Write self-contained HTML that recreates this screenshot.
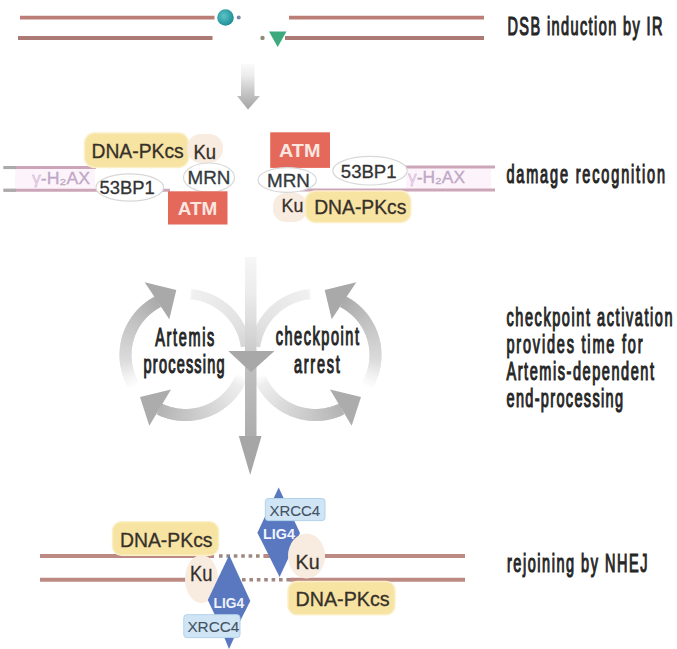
<!DOCTYPE html>
<html><head><meta charset="utf-8">
<style>
html,body{margin:0;padding:0;background:#fff;}
body{width:677px;height:649px;overflow:hidden;}
svg{display:block;}
</style></head>
<body>
<svg width="677" height="649" viewBox="0 0 677 649">
<defs>
  <linearGradient id="gTopArrow" x1="0" y1="0" x2="0" y2="1">
    <stop offset="0" stop-color="#fafafa"/>
    <stop offset="0.25" stop-color="#ececec"/>
    <stop offset="0.6" stop-color="#c8c8c8"/>
    <stop offset="1" stop-color="#a4a4a4"/>
  </linearGradient>
  <linearGradient id="gShaft" x1="0" y1="0" x2="0" y2="1">
    <stop offset="0" stop-color="#f6f6f6"/>
    <stop offset="0.2" stop-color="#ececec"/>
    <stop offset="0.42" stop-color="#d6d6d6"/>
    <stop offset="0.6" stop-color="#c0c0c0"/>
    <stop offset="1" stop-color="#acacac"/>
  </linearGradient>
  <radialGradient id="gTeal" cx="0.4" cy="0.4" r="0.6">
    <stop offset="0" stop-color="#5cc4c8"/>
    <stop offset="1" stop-color="#1f8f98"/>
  </radialGradient>
</defs>
<g stroke-linecap="butt">
  <line x1="20" y1="17.6" x2="214.5" y2="17.6" stroke="#ba7e76" stroke-width="3.8"/>
  <line x1="289" y1="17.6" x2="484" y2="17.6" stroke="#ba7e76" stroke-width="3.8"/>
  <line x1="18" y1="38" x2="212.5" y2="38" stroke="#ac7a74" stroke-width="3.8"/>
  <line x1="285" y1="38" x2="484" y2="38" stroke="#ac7a74" stroke-width="3.8"/>
</g>
<circle cx="225.5" cy="17.5" r="8.3" fill="url(#gTeal)"/>
<circle cx="238.7" cy="17.5" r="2" fill="#7a86a8"/>
<polygon points="269,31.5 286.5,31.5 277.7,47" fill="#3caa7c"/>
<circle cx="262.5" cy="37.9" r="2.2" fill="#8c8a72"/>
<text transform="translate(507.5,35.4) scale(0.58,1)" x="0" y="0" font-family="Liberation Sans" font-size="25" font-weight="normal" fill="#262626" stroke="#262626" stroke-width="1.2" textLength="267.24" lengthAdjust="spacing">DSB induction by IR</text>
<polygon points="241,64 254.5,64 254.5,96 260,96 248,109.5 237,96 241,96" fill="url(#gTopArrow)"/>
<g>
  <rect x="15" y="168" width="80" height="21.5" fill="#fdf3fb"/>
  <rect x="406" y="167.5" width="85" height="21.5" fill="#fdf3fb"/>
  <line x1="3.5" y1="167.6" x2="96" y2="167.6" stroke="#cca6b8" stroke-width="3"/>
  <line x1="3.5" y1="190.3" x2="170" y2="190.3" stroke="#cca6b8" stroke-width="3"/>
  <line x1="3.5" y1="167.6" x2="16" y2="167.6" stroke="#ababab" stroke-width="3"/>
  <line x1="3.5" y1="190.3" x2="16" y2="190.3" stroke="#ababab" stroke-width="3"/>
  <line x1="404" y1="167.1" x2="495" y2="167.1" stroke="#cca6b8" stroke-width="3"/>
  <line x1="300" y1="189.9" x2="495" y2="189.9" stroke="#cca6b8" stroke-width="3"/>
  <text x="32" y="184" font-family="Liberation Sans" font-size="16.5" fill="#bea8c6" stroke="#bea8c6" stroke-width="0.3" textLength="58" lengthAdjust="spacingAndGlyphs"><tspan fill="#ecd4ee">γ</tspan>-H₂AX</text>
  <text x="408" y="183" font-family="Liberation Sans" font-size="16.5" fill="#bea8c6" stroke="#bea8c6" stroke-width="0.3" textLength="57" lengthAdjust="spacingAndGlyphs"><tspan fill="#ecd4ee">γ</tspan>-H₂AX</text>
</g>
<rect x="84.5" y="133" width="104" height="34.5" rx="10" fill="#f7e3a2" stroke="#fbefc8" stroke-width="1.5"/>
<text x="91.5" y="157.8" font-family="Liberation Sans" font-size="20.5" font-weight="normal" fill="#36302a" stroke="#36302a" stroke-width="0.3" textLength="92.2" lengthAdjust="spacingAndGlyphs">DNA-PKcs</text>
<rect x="187" y="134" width="36" height="29" rx="14" fill="#f8ebdf"/>
<text x="193.4" y="158.5" font-family="Liberation Sans" font-size="19.5" font-weight="normal" fill="#36302a" stroke="#36302a" stroke-width="0.3" textLength="22.6" lengthAdjust="spacingAndGlyphs">Ku</text>
<ellipse cx="209" cy="177.5" rx="25.5" ry="14.5" fill="#fff" stroke="#d8d8d8" stroke-width="1.2"/>
<text x="187.5" y="184.3" font-family="Liberation Sans" font-size="18" font-weight="normal" fill="#333a3e" stroke="#333a3e" stroke-width="0.3" textLength="42.9" lengthAdjust="spacingAndGlyphs">MRN</text>
<ellipse cx="129.8" cy="187.5" rx="33.8" ry="13.6" fill="#fff" stroke="#d8d8d8" stroke-width="1.2"/>
<text x="99.6" y="193.6" font-family="Liberation Sans" font-size="18.5" font-weight="normal" fill="#333" stroke="#333" stroke-width="0.3" textLength="55.2" lengthAdjust="spacingAndGlyphs">53BP1</text>
<rect x="168" y="191.3" width="59.5" height="33.2" fill="#e5695b"/>
<text x="177.8" y="215" font-family="Liberation Sans" font-size="18.5" font-weight="bold" fill="#fbe6e0" textLength="39.6" lengthAdjust="spacingAndGlyphs">ATM</text>
<rect x="270.2" y="132.3" width="59.8" height="35.6" fill="#e5695b"/>
<text x="279" y="156.6" font-family="Liberation Sans" font-size="18.5" font-weight="bold" fill="#fbe6e0" textLength="41.4" lengthAdjust="spacingAndGlyphs">ATM</text>
<ellipse cx="370" cy="170.7" rx="37.2" ry="14.3" fill="#fff" stroke="#d8d8d8" stroke-width="1.2"/>
<text x="340.8" y="177.8" font-family="Liberation Sans" font-size="19" font-weight="normal" fill="#333" stroke="#333" stroke-width="0.3" textLength="55.8" lengthAdjust="spacingAndGlyphs">53BP1</text>
<rect x="273" y="193" width="34" height="29" rx="13" fill="#f8ebdf"/>
<rect x="305.5" y="191" width="105.3" height="31.5" rx="10" fill="#f7e3a2" stroke="#fbefc8" stroke-width="1.5"/>
<text x="281.6" y="212.4" font-family="Liberation Sans" font-size="19" font-weight="normal" fill="#36302a" stroke="#36302a" stroke-width="0.3" textLength="21.8" lengthAdjust="spacingAndGlyphs">Ku</text>
<text x="314.2" y="214" font-family="Liberation Sans" font-size="19.5" font-weight="normal" fill="#36302a" stroke="#36302a" stroke-width="0.3" textLength="92.2" lengthAdjust="spacingAndGlyphs">DNA-PKcs</text>
<ellipse cx="287.2" cy="180" rx="29.2" ry="12.3" fill="#fff" stroke="#d8d8d8" stroke-width="1.2"/>
<text x="267" y="186.5" font-family="Liberation Sans" font-size="17.5" font-weight="normal" fill="#333a3e" stroke="#333a3e" stroke-width="0.3" textLength="42.9" lengthAdjust="spacingAndGlyphs">MRN</text>
<text transform="translate(506.4,183.2) scale(0.58,1)" x="0" y="0" font-family="Liberation Sans" font-size="25" font-weight="normal" fill="#262626" stroke="#262626" stroke-width="1.2" textLength="273.45" lengthAdjust="spacing">damage recognition</text>
<polygon points="247.52,377.57 246.68,379.75 235.56,375.25 236.24,373.47" fill="#fefefe"/>
<polygon points="247.13,378.63 246.01,381.34 235.01,376.55 235.92,374.33" fill="#fbfbfb"/>
<polygon points="246.49,380.23 245.30,382.92 234.43,377.84 235.40,375.64" fill="#f9f9f9"/>
<polygon points="245.81,381.82 244.55,384.47 233.82,379.12 234.84,376.94" fill="#f6f6f6"/>
<polygon points="245.08,383.39 243.76,386.01 233.17,380.37 234.25,378.23" fill="#f4f4f4"/>
<polygon points="244.32,384.94 242.93,387.53 232.49,381.61 233.63,379.49" fill="#f1f1f1"/>
<polygon points="243.52,386.47 242.06,389.02 231.77,382.83 232.97,380.75" fill="#eeeeee"/>
<polygon points="242.67,387.98 241.15,390.49 231.03,384.03 232.28,381.98" fill="#ededed"/>
<polygon points="241.79,389.46 240.20,391.93 230.25,385.22 231.55,383.19" fill="#ececec"/>
<polygon points="240.87,390.92 239.21,393.35 229.45,386.38 230.80,384.39" fill="#ebebeb"/>
<polygon points="239.91,392.36 238.19,394.74 228.61,387.52 230.02,385.57" fill="#eaeaea"/>
<polygon points="238.91,393.77 237.13,396.11 227.75,388.63 229.20,386.72" fill="#e9e9e9"/>
<polygon points="237.88,395.16 236.04,397.45 226.85,389.73 228.36,387.85" fill="#e8e8e8"/>
<polygon points="236.81,396.51 234.91,398.75 225.93,390.80 227.48,388.96" fill="#e7e7e7"/>
<polygon points="235.71,397.84 233.75,400.03 224.98,391.85 226.58,390.05" fill="#e6e6e6"/>
<polygon points="234.57,399.14 232.55,401.28 224.00,392.87 225.65,391.12" fill="#e5e5e5"/>
<polygon points="233.39,400.41 231.33,402.50 222.99,393.86 224.69,392.15" fill="#e4e4e4"/>
<polygon points="232.19,401.65 230.07,403.68 221.96,394.83 223.70,393.17" fill="#e3e3e3"/>
<polygon points="230.95,402.85 228.78,404.83 220.91,395.77 222.69,394.15" fill="#e2e2e2"/>
<polygon points="229.68,404.03 227.46,405.95 219.83,396.68 221.65,395.11" fill="#e1e1e1"/>
<polygon points="228.39,405.17 226.11,407.03 218.73,397.57 220.59,396.05" fill="#e0e0e0"/>
<polygon points="227.06,406.27 224.74,408.07 217.60,398.42 219.50,396.95" fill="#dedede"/>
<polygon points="225.70,407.34 223.33,409.08 216.45,399.25 218.39,397.83" fill="#dedede"/>
<polygon points="224.32,408.38 221.90,410.05 215.28,400.04 217.26,398.67" fill="#dcdcdc"/>
<polygon points="222.91,409.38 220.45,410.99 214.10,400.81 216.11,399.49" fill="#dcdcdc"/>
<polygon points="221.47,410.34 218.97,411.88 212.89,401.54 214.93,400.28" fill="#dadada"/>
<polygon points="220.01,411.26 217.47,412.74 211.66,402.24 213.74,401.03" fill="#dadada"/>
<polygon points="218.52,412.14 215.95,413.56 210.41,402.91 212.52,401.75" fill="#d8d8d8"/>
<polygon points="217.02,412.99 214.41,414.33 209.15,403.55 211.29,402.44" fill="#d8d8d8"/>
<polygon points="215.49,413.79 212.84,415.07 207.87,404.15 210.04,403.10" fill="#d6d6d6"/>
<polygon points="213.94,414.56 211.26,415.76 206.58,404.72 208.77,403.73" fill="#d6d6d6"/>
<polygon points="212.37,415.28 209.66,416.42 205.27,405.25 207.49,404.32" fill="#d4d4d4"/>
<polygon points="210.78,415.97 208.05,417.03 203.95,405.75 206.19,404.88" fill="#d4d4d4"/>
<polygon points="209.18,416.61 206.41,417.60 202.61,406.22 204.87,405.40" fill="#d2d2d2"/>
<polygon points="207.56,417.20 204.77,418.12 201.27,406.65 203.55,405.89" fill="#d2d2d2"/>
<polygon points="205.92,417.76 203.11,418.61 199.91,407.04 202.21,406.35" fill="#d0d0d0"/>
<polygon points="204.27,418.27 201.44,419.05 198.54,407.40 200.86,406.77" fill="#d0d0d0"/>
<polygon points="202.61,418.74 199.76,419.44 197.16,407.73 199.50,407.15" fill="#cecece"/>
<polygon points="200.94,419.17 198.07,419.79 195.78,408.01 198.13,407.50" fill="#cecece"/>
<polygon points="199.25,419.55 196.36,420.10 194.39,408.26 196.75,407.82" fill="#cccccc"/>
<polygon points="197.56,419.89 194.66,420.36 192.99,408.48 195.36,408.09" fill="#cccccc"/>
<polygon points="195.85,420.18 192.94,420.58 191.59,408.66 193.97,408.33" fill="#cacaca"/>
<polygon points="194.14,420.43 191.22,420.75 190.18,408.80 192.57,408.53" fill="#cacaca"/>
<polygon points="192.43,420.64 189.50,420.88 188.77,408.90 191.17,408.70" fill="#c8c8c8"/>
<polygon points="190.71,420.79 187.77,420.96 187.36,408.97 189.76,408.83" fill="#c8c8c8"/>
<polygon points="188.98,420.91 186.05,421.00 185.95,409.00 188.35,408.92" fill="#c6c6c6"/>
<polygon points="187.26,420.98 184.32,420.99 184.53,408.99 186.94,408.98" fill="#c6c6c6"/>
<polygon points="185.53,421.00 182.59,420.94 183.12,408.95 185.52,409.00" fill="#c4c4c4"/>
<polygon points="183.80,420.98 180.87,420.84 181.71,408.87 184.11,408.98" fill="#c4c4c4"/>
<polygon points="182.07,420.91 179.15,420.69 180.30,408.75 182.70,408.93" fill="#c2c2c2"/>
<polygon points="180.35,420.80 177.43,420.50 178.90,408.59 181.29,408.84" fill="#c2c2c2"/>
<polygon points="178.63,420.64 175.72,420.27 177.49,408.40 179.88,408.71" fill="#c0c0c0"/>
<polygon points="176.91,420.44 174.01,419.99 176.10,408.18 178.47,408.54" fill="#c0c0c0"/>
<polygon points="175.20,420.19 172.31,419.67 174.71,407.91 177.08,408.34" fill="#bebebe"/>
<polygon points="173.50,419.90 170.63,419.30 173.33,407.61 175.68,408.10" fill="#bebebe"/>
<polygon points="171.81,419.56 168.95,418.89 171.96,407.27 174.30,407.82" fill="#bcbcbc"/>
<polygon points="170.12,419.18 167.28,418.44 170.59,406.90 172.92,407.51" fill="#bcbcbc"/>
<polygon points="168.45,418.76 165.63,417.94 169.24,406.49 171.55,407.17" fill="#bababa"/>
<polygon points="166.78,418.29 163.99,417.39 167.90,406.05 170.19,406.78" fill="#bababa"/>
<polygon points="165.13,417.78 162.36,416.81 166.57,405.57 168.84,406.36" fill="#b8b8b8"/>
<polygon points="163.50,417.22 160.75,416.18 165.25,405.06 167.50,405.91" fill="#b8b8b8"/>
<polygon points="161.87,416.63 159.16,415.51 163.95,404.51 166.17,405.42" fill="#b6b6b6"/>
<polygon points="160.27,415.99 157.58,414.80 162.66,403.93 164.86,404.90" fill="#b6b6b6"/>
<polygon points="158.68,415.31 156.57,414.32 161.83,403.53 163.56,404.34" fill="#b4b4b4"/>
<polygon points="140.00,396.90 171.00,389.60 149.30,425.80" fill="#acacac"/>
<polygon points="129.53,389.97 128.32,387.96 138.72,381.97 139.71,383.62" fill="#fefefe"/>
<polygon points="128.94,389.01 127.47,386.45 138.02,380.73 139.22,382.83" fill="#fdfdfd"/>
<polygon points="128.06,387.51 126.67,384.91 137.36,379.47 138.51,381.60" fill="#fbfbfb"/>
<polygon points="127.23,385.99 125.90,383.35 136.74,378.20 137.82,380.35" fill="#f9f9f9"/>
<polygon points="126.43,384.44 125.17,381.77 136.14,376.91 137.17,379.09" fill="#f8f8f8"/>
<polygon points="125.68,382.88 124.49,380.18 135.58,375.60 136.55,377.81" fill="#f6f6f6"/>
<polygon points="124.96,381.30 123.85,378.56 135.06,374.28 135.97,376.52" fill="#f4f4f4"/>
<polygon points="124.29,379.69 123.25,376.93 134.57,372.94 135.42,375.20" fill="#f3f3f3"/>
<polygon points="123.67,378.08 122.70,375.29 134.11,371.60 134.91,373.88" fill="#f1f1f1"/>
<polygon points="123.08,376.44 122.18,373.63 133.70,370.24 134.43,372.54" fill="#efefef"/>
<polygon points="122.54,374.79 121.71,371.95 133.31,368.87 133.98,371.19" fill="#ececec"/>
<polygon points="122.04,373.13 121.29,370.27 132.97,367.49 133.58,369.83" fill="#eaeaea"/>
<polygon points="121.58,371.45 120.91,368.57 132.65,366.11 133.20,368.46" fill="#e8e8e8"/>
<polygon points="121.17,369.76 120.58,366.87 132.38,364.71 132.87,367.08" fill="#e6e6e6"/>
<polygon points="120.81,368.06 120.29,365.16 132.14,363.31 132.57,365.69" fill="#e4e4e4"/>
<polygon points="120.48,366.36 120.04,363.44 131.94,361.90 132.31,364.29" fill="#e1e1e1"/>
<polygon points="120.21,364.64 119.84,361.71 131.78,360.49 132.08,362.89" fill="#dfdfdf"/>
<polygon points="119.98,362.92 119.69,359.98 131.65,359.08 131.89,361.48" fill="#dddddd"/>
<polygon points="119.79,361.19 119.58,358.25 131.57,357.66 131.74,360.07" fill="#dbdbdb"/>
<polygon points="119.65,359.46 119.52,356.51 131.51,356.24 131.62,358.65" fill="#dadada"/>
<polygon points="119.56,357.73 119.50,354.78 131.50,354.82 131.55,357.23" fill="#d9d9d9"/>
<polygon points="119.51,355.99 119.53,353.04 131.52,353.40 131.51,355.81" fill="#d8d8d8"/>
<polygon points="119.50,354.25 119.60,351.30 131.58,351.98 131.50,354.39" fill="#d7d7d7"/>
<polygon points="119.55,352.52 119.72,349.57 131.68,350.56 131.54,352.97" fill="#d6d6d6"/>
<polygon points="119.63,350.78 119.89,347.84 131.82,349.14 131.61,351.55" fill="#d5d5d5"/>
<polygon points="119.77,349.05 120.10,346.12 131.99,347.73 131.72,350.13" fill="#d4d4d4"/>
<polygon points="119.95,347.32 120.36,344.40 132.20,346.33 131.87,348.72" fill="#d3d3d3"/>
<polygon points="120.17,345.60 120.66,342.69 132.45,344.93 132.05,347.31" fill="#d2d2d2"/>
<polygon points="120.44,343.89 121.00,340.99 132.73,343.54 132.27,345.91" fill="#d1d1d1"/>
<polygon points="120.76,342.18 121.40,339.29 133.05,342.15 132.53,344.51" fill="#d0d0d0"/>
<polygon points="121.12,340.48 121.83,337.61 133.41,340.77 132.82,343.12" fill="#cfcfcf"/>
<polygon points="121.52,338.79 122.31,335.94 133.80,339.41 133.15,341.74" fill="#cecece"/>
<polygon points="121.97,337.11 122.83,334.29 134.23,338.05 133.52,340.36" fill="#cdcdcd"/>
<polygon points="122.46,335.45 123.40,332.65 134.69,336.71 133.92,339.00" fill="#cccccc"/>
<polygon points="123.00,333.79 124.01,331.02 135.19,335.38 134.36,337.65" fill="#cbcbcb"/>
<polygon points="123.58,332.16 124.66,329.41 135.72,334.06 134.84,336.31" fill="#cacaca"/>
<polygon points="124.20,330.53 125.36,327.82 136.29,332.76 135.35,334.98" fill="#c9c9c9"/>
<polygon points="124.87,328.93 126.09,326.24 136.89,331.47 135.89,333.67" fill="#c8c8c8"/>
<polygon points="125.57,327.34 126.87,324.69 137.53,330.20 136.47,332.37" fill="#c7c7c7"/>
<polygon points="126.32,325.78 127.69,323.16 138.20,328.95 137.08,331.09" fill="#c6c6c6"/>
<polygon points="127.11,324.23 128.55,321.65 138.90,327.71 137.73,329.82" fill="#c5c5c5"/>
<polygon points="127.94,322.70 129.44,320.16 139.64,326.50 138.41,328.58" fill="#c4c4c4"/>
<polygon points="128.81,321.20 130.38,318.70 140.40,325.30 139.12,327.35" fill="#c3c3c3"/>
<polygon points="129.72,319.72 131.35,317.26 141.20,324.12 139.86,326.13" fill="#c2c2c2"/>
<polygon points="130.67,318.26 132.37,315.85 142.03,322.97 140.64,324.94" fill="#c1c1c1"/>
<polygon points="131.65,316.83 133.42,314.46 142.89,321.83 141.44,323.77" fill="#c0c0c0"/>
<polygon points="132.68,315.43 134.50,313.11 143.77,320.72 142.28,322.62" fill="#bfbfbf"/>
<polygon points="133.74,314.05 135.62,311.78 144.69,319.64 143.15,321.50" fill="#bdbdbd"/>
<polygon points="134.83,312.71 136.77,310.48 145.63,318.58 144.04,320.40" fill="#bcbcbc"/>
<polygon points="135.96,311.39 137.96,309.22 146.61,317.54 144.97,319.32" fill="#bbbbbb"/>
<polygon points="137.13,310.10 139.18,307.98 147.61,316.53 145.92,318.26" fill="#bababa"/>
<polygon points="138.33,308.84 140.44,306.78 148.63,315.55 146.90,317.23" fill="#b9b9b9"/>
<polygon points="139.56,307.62 141.72,305.61 149.68,314.59 147.91,316.23" fill="#b7b7b7"/>
<polygon points="140.82,306.42 143.04,304.47 150.76,313.66 148.94,315.26" fill="#b6b6b6"/>
<polygon points="142.11,305.26 144.38,303.37 151.86,312.76 150.00,314.31" fill="#b5b5b5"/>
<polygon points="143.44,304.14 145.75,302.31 152.98,311.89 151.09,313.39" fill="#b4b4b4"/>
<polygon points="144.79,303.05 147.16,301.28 154.13,311.05 152.19,312.50" fill="#b3b3b3"/>
<polygon points="146.17,302.00 148.58,300.29 155.29,310.24 153.32,311.63" fill="#b2b2b2"/>
<polygon points="147.58,300.98 150.03,299.34 156.48,309.46 154.47,310.80" fill="#b0b0b0"/>
<polygon points="149.02,300.00 151.51,298.42 157.69,308.71 155.65,310.00" fill="#afafaf"/>
<polygon points="150.47,299.06 153.01,297.55 158.92,308.00 156.84,309.23" fill="#aeaeae"/>
<polygon points="151.96,298.16 154.54,296.71 160.17,307.31 158.06,308.49" fill="#adadad"/>
<polygon points="153.47,297.30 155.54,296.19 160.98,306.89 159.29,307.79" fill="#acacac"/>
<polygon points="144.70,282.30 176.30,290.00 169.30,319.30" fill="#a9a9a9"/>
<polygon points="190.10,289.16 192.43,289.36 191.38,299.31 189.41,299.14" fill="#fbfbfb"/>
<polygon points="191.22,289.25 194.14,289.57 192.83,299.48 190.36,299.21" fill="#f4f4f4"/>
<polygon points="192.94,289.42 195.85,289.82 194.28,299.69 191.82,299.36" fill="#f0f0f0"/>
<polygon points="194.66,289.64 197.56,290.11 195.73,299.94 193.27,299.54" fill="#efefef"/>
<polygon points="196.36,289.90 199.25,290.45 197.17,300.23 194.72,299.76" fill="#efefef"/>
<polygon points="198.07,290.21 200.94,290.83 198.60,300.55 196.16,300.02" fill="#efefef"/>
<polygon points="199.76,290.56 202.61,291.26 200.02,300.91 197.60,300.32" fill="#eeeeee"/>
<polygon points="201.44,290.95 204.27,291.73 201.43,301.31 199.02,300.66" fill="#eeeeee"/>
<polygon points="203.11,291.39 205.92,292.24 202.83,301.75 200.44,301.03" fill="#ededed"/>
<polygon points="204.77,291.88 207.56,292.80 204.22,302.22 201.85,301.44" fill="#ededed"/>
<polygon points="206.41,292.40 209.18,293.39 205.59,302.73 203.25,301.89" fill="#ededed"/>
<polygon points="208.05,292.97 210.78,294.03 206.95,303.27 204.63,302.37" fill="#ececec"/>
<polygon points="209.66,293.58 212.37,294.72 208.30,303.85 206.00,302.89" fill="#ececec"/>
<polygon points="211.26,294.24 213.94,295.44 209.63,304.47 207.36,303.44" fill="#ececec"/>
<polygon points="212.84,294.93 215.49,296.21 210.95,305.11 208.70,304.03" fill="#ebebeb"/>
<polygon points="214.41,295.67 217.02,297.01 212.24,305.80 210.03,304.66" fill="#ebebeb"/>
<polygon points="215.95,296.44 218.52,297.86 213.52,306.51 211.34,305.32" fill="#eaeaea"/>
<polygon points="217.47,297.26 220.01,298.74 214.78,307.26 212.63,306.01" fill="#eaeaea"/>
<polygon points="218.97,298.12 221.47,299.66 216.02,308.05 213.90,306.74" fill="#eaeaea"/>
<polygon points="220.45,299.01 222.91,300.62 217.24,308.86 215.15,307.50" fill="#e9e9e9"/>
<polygon points="221.90,299.95 224.32,301.62 218.44,309.71 216.39,308.29" fill="#e9e9e9"/>
<polygon points="223.33,300.92 225.70,302.66 219.61,310.59 217.60,309.11" fill="#e8e8e8"/>
<polygon points="224.74,301.93 227.06,303.73 220.76,311.50 218.79,309.97" fill="#e8e8e8"/>
<polygon points="226.11,302.97 228.39,304.83 221.89,312.43 219.96,310.86" fill="#e8e8e8"/>
<polygon points="227.46,304.05 229.68,305.97 222.99,313.40 221.10,311.77" fill="#e7e7e7"/>
<polygon points="228.78,305.17 230.95,307.15 224.07,314.40 222.22,312.72" fill="#e7e7e7"/>
<polygon points="230.07,306.32 232.19,308.35 225.12,315.42 223.32,313.70" fill="#e6e6e6"/>
<polygon points="231.33,307.50 233.39,309.59 226.14,316.47 224.38,314.70" fill="#e6e6e6"/>
<polygon points="232.55,308.72 234.57,310.86 227.13,317.55 225.42,315.73" fill="#e6e6e6"/>
<polygon points="233.75,309.97 235.71,312.16 228.10,318.65 226.44,316.79" fill="#e5e5e5"/>
<polygon points="234.91,311.25 236.81,313.49 229.04,319.78 227.43,317.87" fill="#e5e5e5"/>
<polygon points="236.04,312.55 237.88,314.84 229.94,320.93 228.38,318.99" fill="#e4e4e4"/>
<polygon points="237.13,313.89 238.91,316.23 230.82,322.10 229.31,320.12" fill="#e4e4e4"/>
<polygon points="238.19,315.26 239.91,317.64 231.66,323.30 230.21,321.28" fill="#e4e4e4"/>
<polygon points="239.21,316.65 240.87,319.08 232.48,324.52 231.08,322.46" fill="#e3e3e3"/>
<polygon points="240.20,318.07 241.79,320.54 233.26,325.76 231.91,323.66" fill="#e3e3e3"/>
<polygon points="241.15,319.51 242.67,322.02 234.01,327.02 232.72,324.89" fill="#e2e2e2"/>
<polygon points="242.06,320.98 243.52,323.53 234.73,328.30 233.49,326.14" fill="#e2e2e2"/>
<polygon points="242.93,322.47 244.32,325.06 235.41,329.60 234.23,327.40" fill="#e1e1e1"/>
<polygon points="243.76,323.99 245.08,326.61 236.06,330.91 234.93,328.69" fill="#e0e0e0"/>
<polygon points="244.55,325.53 245.81,328.18 236.67,332.25 235.61,329.99" fill="#dfdfdf"/>
<polygon points="245.30,327.08 246.49,329.77 237.25,333.59 236.24,331.31" fill="#dfdfdf"/>
<polygon points="246.01,328.66 247.13,331.37 237.79,334.95 236.85,332.65" fill="#dedede"/>
<polygon points="246.68,330.25 247.72,333.00 238.30,336.33 237.41,334.00" fill="#dddddd"/>
<polygon points="247.31,331.86 248.28,334.63 238.77,337.72 237.95,335.37" fill="#dcdcdc"/>
<polygon points="247.89,333.49 248.79,336.28 239.20,339.12 238.44,336.75" fill="#dbdbdb"/>
<polygon points="248.44,335.13 249.26,337.95 239.60,340.53 238.90,338.14" fill="#dadada"/>
<polygon points="248.94,336.78 249.68,339.62 239.96,341.95 239.32,339.54" fill="#dadada"/>
<polygon points="249.39,338.45 250.06,341.31 240.28,343.38 239.71,340.96" fill="#d9d9d9"/>
<polygon points="249.80,340.13 250.40,343.00 240.57,344.82 240.06,342.38" fill="#d8d8d8"/>
<polygon points="250.17,341.81 250.69,344.70 240.81,346.26 240.37,343.81" fill="#d7d7d7"/>
<polygon points="250.49,343.51 250.86,345.81 240.96,347.21 240.64,345.25" fill="#d6d6d6"/>
<polygon points="253.48,377.57 254.32,379.75 265.44,375.25 264.76,373.47" fill="#fefefe"/>
<polygon points="253.87,378.63 254.99,381.34 265.99,376.55 265.08,374.33" fill="#fbfbfb"/>
<polygon points="254.51,380.23 255.70,382.92 266.57,377.84 265.60,375.64" fill="#f9f9f9"/>
<polygon points="255.19,381.82 256.45,384.47 267.18,379.12 266.16,376.94" fill="#f6f6f6"/>
<polygon points="255.92,383.39 257.24,386.01 267.83,380.37 266.75,378.23" fill="#f4f4f4"/>
<polygon points="256.68,384.94 258.07,387.53 268.51,381.61 267.37,379.49" fill="#f1f1f1"/>
<polygon points="257.48,386.47 258.94,389.02 269.23,382.83 268.03,380.75" fill="#eeeeee"/>
<polygon points="258.33,387.98 259.85,390.49 269.97,384.03 268.72,381.98" fill="#ededed"/>
<polygon points="259.21,389.46 260.80,391.93 270.75,385.22 269.45,383.19" fill="#ececec"/>
<polygon points="260.13,390.92 261.79,393.35 271.55,386.38 270.20,384.39" fill="#ebebeb"/>
<polygon points="261.09,392.36 262.81,394.74 272.39,387.52 270.98,385.57" fill="#eaeaea"/>
<polygon points="262.09,393.77 263.87,396.11 273.25,388.63 271.80,386.72" fill="#e9e9e9"/>
<polygon points="263.12,395.16 264.96,397.45 274.15,389.73 272.64,387.85" fill="#e8e8e8"/>
<polygon points="264.19,396.51 266.09,398.75 275.07,390.80 273.52,388.96" fill="#e7e7e7"/>
<polygon points="265.29,397.84 267.25,400.03 276.02,391.85 274.42,390.05" fill="#e6e6e6"/>
<polygon points="266.43,399.14 268.45,401.28 277.00,392.87 275.35,391.12" fill="#e5e5e5"/>
<polygon points="267.61,400.41 269.67,402.50 278.01,393.86 276.31,392.15" fill="#e4e4e4"/>
<polygon points="268.81,401.65 270.93,403.68 279.04,394.83 277.30,393.17" fill="#e3e3e3"/>
<polygon points="270.05,402.85 272.22,404.83 280.09,395.77 278.31,394.15" fill="#e2e2e2"/>
<polygon points="271.32,404.03 273.54,405.95 281.17,396.68 279.35,395.11" fill="#e1e1e1"/>
<polygon points="272.61,405.17 274.89,407.03 282.27,397.57 280.41,396.05" fill="#e0e0e0"/>
<polygon points="273.94,406.27 276.26,408.07 283.40,398.42 281.50,396.95" fill="#dedede"/>
<polygon points="275.30,407.34 277.67,409.08 284.55,399.25 282.61,397.83" fill="#dedede"/>
<polygon points="276.68,408.38 279.10,410.05 285.72,400.04 283.74,398.67" fill="#dcdcdc"/>
<polygon points="278.09,409.38 280.55,410.99 286.90,400.81 284.89,399.49" fill="#dcdcdc"/>
<polygon points="279.53,410.34 282.03,411.88 288.11,401.54 286.07,400.28" fill="#dadada"/>
<polygon points="280.99,411.26 283.53,412.74 289.34,402.24 287.26,401.03" fill="#dadada"/>
<polygon points="282.48,412.14 285.05,413.56 290.59,402.91 288.48,401.75" fill="#d8d8d8"/>
<polygon points="283.98,412.99 286.59,414.33 291.85,403.55 289.71,402.44" fill="#d8d8d8"/>
<polygon points="285.51,413.79 288.16,415.07 293.13,404.15 290.96,403.10" fill="#d6d6d6"/>
<polygon points="287.06,414.56 289.74,415.76 294.42,404.72 292.23,403.73" fill="#d6d6d6"/>
<polygon points="288.63,415.28 291.34,416.42 295.73,405.25 293.51,404.32" fill="#d4d4d4"/>
<polygon points="290.22,415.97 292.95,417.03 297.05,405.75 294.81,404.88" fill="#d4d4d4"/>
<polygon points="291.82,416.61 294.59,417.60 298.39,406.22 296.13,405.40" fill="#d2d2d2"/>
<polygon points="293.44,417.20 296.23,418.12 299.73,406.65 297.45,405.89" fill="#d2d2d2"/>
<polygon points="295.08,417.76 297.89,418.61 301.09,407.04 298.79,406.35" fill="#d0d0d0"/>
<polygon points="296.73,418.27 299.56,419.05 302.46,407.40 300.14,406.77" fill="#d0d0d0"/>
<polygon points="298.39,418.74 301.24,419.44 303.84,407.73 301.50,407.15" fill="#cecece"/>
<polygon points="300.06,419.17 302.93,419.79 305.22,408.01 302.87,407.50" fill="#cecece"/>
<polygon points="301.75,419.55 304.64,420.10 306.61,408.26 304.25,407.82" fill="#cccccc"/>
<polygon points="303.44,419.89 306.34,420.36 308.01,408.48 305.64,408.09" fill="#cccccc"/>
<polygon points="305.15,420.18 308.06,420.58 309.41,408.66 307.03,408.33" fill="#cacaca"/>
<polygon points="306.86,420.43 309.78,420.75 310.82,408.80 308.43,408.53" fill="#cacaca"/>
<polygon points="308.57,420.64 311.50,420.88 312.23,408.90 309.83,408.70" fill="#c8c8c8"/>
<polygon points="310.29,420.79 313.23,420.96 313.64,408.97 311.24,408.83" fill="#c8c8c8"/>
<polygon points="312.02,420.91 314.95,421.00 315.05,409.00 312.65,408.92" fill="#c6c6c6"/>
<polygon points="313.74,420.98 316.68,420.99 316.47,408.99 314.06,408.98" fill="#c6c6c6"/>
<polygon points="315.47,421.00 318.41,420.94 317.88,408.95 315.48,409.00" fill="#c4c4c4"/>
<polygon points="317.20,420.98 320.13,420.84 319.29,408.87 316.89,408.98" fill="#c4c4c4"/>
<polygon points="318.93,420.91 321.85,420.69 320.70,408.75 318.30,408.93" fill="#c2c2c2"/>
<polygon points="320.65,420.80 323.57,420.50 322.10,408.59 319.71,408.84" fill="#c2c2c2"/>
<polygon points="322.37,420.64 325.28,420.27 323.51,408.40 321.12,408.71" fill="#c0c0c0"/>
<polygon points="324.09,420.44 326.99,419.99 324.90,408.18 322.53,408.54" fill="#c0c0c0"/>
<polygon points="325.80,420.19 328.69,419.67 326.29,407.91 323.92,408.34" fill="#bebebe"/>
<polygon points="327.50,419.90 330.37,419.30 327.67,407.61 325.32,408.10" fill="#bebebe"/>
<polygon points="329.19,419.56 332.05,418.89 329.04,407.27 326.70,407.82" fill="#bcbcbc"/>
<polygon points="330.88,419.18 333.72,418.44 330.41,406.90 328.08,407.51" fill="#bcbcbc"/>
<polygon points="332.55,418.76 335.37,417.94 331.76,406.49 329.45,407.17" fill="#bababa"/>
<polygon points="334.22,418.29 337.01,417.39 333.10,406.05 330.81,406.78" fill="#bababa"/>
<polygon points="335.87,417.78 338.64,416.81 334.43,405.57 332.16,406.36" fill="#b8b8b8"/>
<polygon points="337.50,417.22 340.25,416.18 335.75,405.06 333.50,405.91" fill="#b8b8b8"/>
<polygon points="339.13,416.63 341.84,415.51 337.05,404.51 334.83,405.42" fill="#b6b6b6"/>
<polygon points="340.73,415.99 343.42,414.80 338.34,403.93 336.14,404.90" fill="#b6b6b6"/>
<polygon points="342.32,415.31 344.43,414.32 339.17,403.53 337.44,404.34" fill="#b4b4b4"/>
<polygon points="361.00,396.90 330.00,389.60 351.70,425.80" fill="#acacac"/>
<polygon points="371.47,389.97 372.68,387.96 362.28,381.97 361.29,383.62" fill="#fefefe"/>
<polygon points="372.06,389.01 373.53,386.45 362.98,380.73 361.78,382.83" fill="#fdfdfd"/>
<polygon points="372.94,387.51 374.33,384.91 363.64,379.47 362.49,381.60" fill="#fbfbfb"/>
<polygon points="373.77,385.99 375.10,383.35 364.26,378.20 363.18,380.35" fill="#f9f9f9"/>
<polygon points="374.57,384.44 375.83,381.77 364.86,376.91 363.83,379.09" fill="#f8f8f8"/>
<polygon points="375.32,382.88 376.51,380.18 365.42,375.60 364.45,377.81" fill="#f6f6f6"/>
<polygon points="376.04,381.30 377.15,378.56 365.94,374.28 365.03,376.52" fill="#f4f4f4"/>
<polygon points="376.71,379.69 377.75,376.93 366.43,372.94 365.58,375.20" fill="#f3f3f3"/>
<polygon points="377.33,378.08 378.30,375.29 366.89,371.60 366.09,373.88" fill="#f1f1f1"/>
<polygon points="377.92,376.44 378.82,373.63 367.30,370.24 366.57,372.54" fill="#efefef"/>
<polygon points="378.46,374.79 379.29,371.95 367.69,368.87 367.02,371.19" fill="#ececec"/>
<polygon points="378.96,373.13 379.71,370.27 368.03,367.49 367.42,369.83" fill="#eaeaea"/>
<polygon points="379.42,371.45 380.09,368.57 368.35,366.11 367.80,368.46" fill="#e8e8e8"/>
<polygon points="379.83,369.76 380.42,366.87 368.62,364.71 368.13,367.08" fill="#e6e6e6"/>
<polygon points="380.19,368.06 380.71,365.16 368.86,363.31 368.43,365.69" fill="#e4e4e4"/>
<polygon points="380.52,366.36 380.96,363.44 369.06,361.90 368.69,364.29" fill="#e1e1e1"/>
<polygon points="380.79,364.64 381.16,361.71 369.22,360.49 368.92,362.89" fill="#dfdfdf"/>
<polygon points="381.02,362.92 381.31,359.98 369.35,359.08 369.11,361.48" fill="#dddddd"/>
<polygon points="381.21,361.19 381.42,358.25 369.43,357.66 369.26,360.07" fill="#dbdbdb"/>
<polygon points="381.35,359.46 381.48,356.51 369.49,356.24 369.38,358.65" fill="#dadada"/>
<polygon points="381.44,357.73 381.50,354.78 369.50,354.82 369.45,357.23" fill="#d9d9d9"/>
<polygon points="381.49,355.99 381.47,353.04 369.48,353.40 369.49,355.81" fill="#d8d8d8"/>
<polygon points="381.50,354.25 381.40,351.30 369.42,351.98 369.50,354.39" fill="#d7d7d7"/>
<polygon points="381.45,352.52 381.28,349.57 369.32,350.56 369.46,352.97" fill="#d6d6d6"/>
<polygon points="381.37,350.78 381.11,347.84 369.18,349.14 369.39,351.55" fill="#d5d5d5"/>
<polygon points="381.23,349.05 380.90,346.12 369.01,347.73 369.28,350.13" fill="#d4d4d4"/>
<polygon points="381.05,347.32 380.64,344.40 368.80,346.33 369.13,348.72" fill="#d3d3d3"/>
<polygon points="380.83,345.60 380.34,342.69 368.55,344.93 368.95,347.31" fill="#d2d2d2"/>
<polygon points="380.56,343.89 380.00,340.99 368.27,343.54 368.73,345.91" fill="#d1d1d1"/>
<polygon points="380.24,342.18 379.60,339.29 367.95,342.15 368.47,344.51" fill="#d0d0d0"/>
<polygon points="379.88,340.48 379.17,337.61 367.59,340.77 368.18,343.12" fill="#cfcfcf"/>
<polygon points="379.48,338.79 378.69,335.94 367.20,339.41 367.85,341.74" fill="#cecece"/>
<polygon points="379.03,337.11 378.17,334.29 366.77,338.05 367.48,340.36" fill="#cdcdcd"/>
<polygon points="378.54,335.45 377.60,332.65 366.31,336.71 367.08,339.00" fill="#cccccc"/>
<polygon points="378.00,333.79 376.99,331.02 365.81,335.38 366.64,337.65" fill="#cbcbcb"/>
<polygon points="377.42,332.16 376.34,329.41 365.28,334.06 366.16,336.31" fill="#cacaca"/>
<polygon points="376.80,330.53 375.64,327.82 364.71,332.76 365.65,334.98" fill="#c9c9c9"/>
<polygon points="376.13,328.93 374.91,326.24 364.11,331.47 365.11,333.67" fill="#c8c8c8"/>
<polygon points="375.43,327.34 374.13,324.69 363.47,330.20 364.53,332.37" fill="#c7c7c7"/>
<polygon points="374.68,325.78 373.31,323.16 362.80,328.95 363.92,331.09" fill="#c6c6c6"/>
<polygon points="373.89,324.23 372.45,321.65 362.10,327.71 363.27,329.82" fill="#c5c5c5"/>
<polygon points="373.06,322.70 371.56,320.16 361.36,326.50 362.59,328.58" fill="#c4c4c4"/>
<polygon points="372.19,321.20 370.62,318.70 360.60,325.30 361.88,327.35" fill="#c3c3c3"/>
<polygon points="371.28,319.72 369.65,317.26 359.80,324.12 361.14,326.13" fill="#c2c2c2"/>
<polygon points="370.33,318.26 368.63,315.85 358.97,322.97 360.36,324.94" fill="#c1c1c1"/>
<polygon points="369.35,316.83 367.58,314.46 358.11,321.83 359.56,323.77" fill="#c0c0c0"/>
<polygon points="368.32,315.43 366.50,313.11 357.23,320.72 358.72,322.62" fill="#bfbfbf"/>
<polygon points="367.26,314.05 365.38,311.78 356.31,319.64 357.85,321.50" fill="#bdbdbd"/>
<polygon points="366.17,312.71 364.23,310.48 355.37,318.58 356.96,320.40" fill="#bcbcbc"/>
<polygon points="365.04,311.39 363.04,309.22 354.39,317.54 356.03,319.32" fill="#bbbbbb"/>
<polygon points="363.87,310.10 361.82,307.98 353.39,316.53 355.08,318.26" fill="#bababa"/>
<polygon points="362.67,308.84 360.56,306.78 352.37,315.55 354.10,317.23" fill="#b9b9b9"/>
<polygon points="361.44,307.62 359.28,305.61 351.32,314.59 353.09,316.23" fill="#b7b7b7"/>
<polygon points="360.18,306.42 357.96,304.47 350.24,313.66 352.06,315.26" fill="#b6b6b6"/>
<polygon points="358.89,305.26 356.62,303.37 349.14,312.76 351.00,314.31" fill="#b5b5b5"/>
<polygon points="357.56,304.14 355.25,302.31 348.02,311.89 349.91,313.39" fill="#b4b4b4"/>
<polygon points="356.21,303.05 353.84,301.28 346.87,311.05 348.81,312.50" fill="#b3b3b3"/>
<polygon points="354.83,302.00 352.42,300.29 345.71,310.24 347.68,311.63" fill="#b2b2b2"/>
<polygon points="353.42,300.98 350.97,299.34 344.52,309.46 346.53,310.80" fill="#b0b0b0"/>
<polygon points="351.98,300.00 349.49,298.42 343.31,308.71 345.35,310.00" fill="#afafaf"/>
<polygon points="350.53,299.06 347.99,297.55 342.08,308.00 344.16,309.23" fill="#aeaeae"/>
<polygon points="349.04,298.16 346.46,296.71 340.83,307.31 342.94,308.49" fill="#adadad"/>
<polygon points="347.53,297.30 345.46,296.19 340.02,306.89 341.71,307.79" fill="#acacac"/>
<polygon points="356.30,282.30 324.70,290.00 331.70,319.30" fill="#a9a9a9"/>
<polygon points="310.90,289.16 308.57,289.36 309.62,299.31 311.59,299.14" fill="#fbfbfb"/>
<polygon points="309.78,289.25 306.86,289.57 308.17,299.48 310.64,299.21" fill="#f4f4f4"/>
<polygon points="308.06,289.42 305.15,289.82 306.72,299.69 309.18,299.36" fill="#f0f0f0"/>
<polygon points="306.34,289.64 303.44,290.11 305.27,299.94 307.73,299.54" fill="#efefef"/>
<polygon points="304.64,289.90 301.75,290.45 303.83,300.23 306.28,299.76" fill="#efefef"/>
<polygon points="302.93,290.21 300.06,290.83 302.40,300.55 304.84,300.02" fill="#efefef"/>
<polygon points="301.24,290.56 298.39,291.26 300.98,300.91 303.40,300.32" fill="#eeeeee"/>
<polygon points="299.56,290.95 296.73,291.73 299.57,301.31 301.98,300.66" fill="#eeeeee"/>
<polygon points="297.89,291.39 295.08,292.24 298.17,301.75 300.56,301.03" fill="#ededed"/>
<polygon points="296.23,291.88 293.44,292.80 296.78,302.22 299.15,301.44" fill="#ededed"/>
<polygon points="294.59,292.40 291.82,293.39 295.41,302.73 297.75,301.89" fill="#ededed"/>
<polygon points="292.95,292.97 290.22,294.03 294.05,303.27 296.37,302.37" fill="#ececec"/>
<polygon points="291.34,293.58 288.63,294.72 292.70,303.85 295.00,302.89" fill="#ececec"/>
<polygon points="289.74,294.24 287.06,295.44 291.37,304.47 293.64,303.44" fill="#ececec"/>
<polygon points="288.16,294.93 285.51,296.21 290.05,305.11 292.30,304.03" fill="#ebebeb"/>
<polygon points="286.59,295.67 283.98,297.01 288.76,305.80 290.97,304.66" fill="#ebebeb"/>
<polygon points="285.05,296.44 282.48,297.86 287.48,306.51 289.66,305.32" fill="#eaeaea"/>
<polygon points="283.53,297.26 280.99,298.74 286.22,307.26 288.37,306.01" fill="#eaeaea"/>
<polygon points="282.03,298.12 279.53,299.66 284.98,308.05 287.10,306.74" fill="#eaeaea"/>
<polygon points="280.55,299.01 278.09,300.62 283.76,308.86 285.85,307.50" fill="#e9e9e9"/>
<polygon points="279.10,299.95 276.68,301.62 282.56,309.71 284.61,308.29" fill="#e9e9e9"/>
<polygon points="277.67,300.92 275.30,302.66 281.39,310.59 283.40,309.11" fill="#e8e8e8"/>
<polygon points="276.26,301.93 273.94,303.73 280.24,311.50 282.21,309.97" fill="#e8e8e8"/>
<polygon points="274.89,302.97 272.61,304.83 279.11,312.43 281.04,310.86" fill="#e8e8e8"/>
<polygon points="273.54,304.05 271.32,305.97 278.01,313.40 279.90,311.77" fill="#e7e7e7"/>
<polygon points="272.22,305.17 270.05,307.15 276.93,314.40 278.78,312.72" fill="#e7e7e7"/>
<polygon points="270.93,306.32 268.81,308.35 275.88,315.42 277.68,313.70" fill="#e6e6e6"/>
<polygon points="269.67,307.50 267.61,309.59 274.86,316.47 276.62,314.70" fill="#e6e6e6"/>
<polygon points="268.45,308.72 266.43,310.86 273.87,317.55 275.58,315.73" fill="#e6e6e6"/>
<polygon points="267.25,309.97 265.29,312.16 272.90,318.65 274.56,316.79" fill="#e5e5e5"/>
<polygon points="266.09,311.25 264.19,313.49 271.96,319.78 273.57,317.87" fill="#e5e5e5"/>
<polygon points="264.96,312.55 263.12,314.84 271.06,320.93 272.62,318.99" fill="#e4e4e4"/>
<polygon points="263.87,313.89 262.09,316.23 270.18,322.10 271.69,320.12" fill="#e4e4e4"/>
<polygon points="262.81,315.26 261.09,317.64 269.34,323.30 270.79,321.28" fill="#e4e4e4"/>
<polygon points="261.79,316.65 260.13,319.08 268.52,324.52 269.92,322.46" fill="#e3e3e3"/>
<polygon points="260.80,318.07 259.21,320.54 267.74,325.76 269.09,323.66" fill="#e3e3e3"/>
<polygon points="259.85,319.51 258.33,322.02 266.99,327.02 268.28,324.89" fill="#e2e2e2"/>
<polygon points="258.94,320.98 257.48,323.53 266.27,328.30 267.51,326.14" fill="#e2e2e2"/>
<polygon points="258.07,322.47 256.68,325.06 265.59,329.60 266.77,327.40" fill="#e1e1e1"/>
<polygon points="257.24,323.99 255.92,326.61 264.94,330.91 266.07,328.69" fill="#e0e0e0"/>
<polygon points="256.45,325.53 255.19,328.18 264.33,332.25 265.39,329.99" fill="#dfdfdf"/>
<polygon points="255.70,327.08 254.51,329.77 263.75,333.59 264.76,331.31" fill="#dfdfdf"/>
<polygon points="254.99,328.66 253.87,331.37 263.21,334.95 264.15,332.65" fill="#dedede"/>
<polygon points="254.32,330.25 253.28,333.00 262.70,336.33 263.59,334.00" fill="#dddddd"/>
<polygon points="253.69,331.86 252.72,334.63 262.23,337.72 263.05,335.37" fill="#dcdcdc"/>
<polygon points="253.11,333.49 252.21,336.28 261.80,339.12 262.56,336.75" fill="#dbdbdb"/>
<polygon points="252.56,335.13 251.74,337.95 261.40,340.53 262.10,338.14" fill="#dadada"/>
<polygon points="252.06,336.78 251.32,339.62 261.04,341.95 261.68,339.54" fill="#dadada"/>
<polygon points="251.61,338.45 250.94,341.31 260.72,343.38 261.29,340.96" fill="#d9d9d9"/>
<polygon points="251.20,340.13 250.60,343.00 260.43,344.82 260.94,342.38" fill="#d8d8d8"/>
<polygon points="250.83,341.81 250.31,344.70 260.19,346.26 260.63,343.81" fill="#d7d7d7"/>
<polygon points="250.51,343.51 250.14,345.81 260.04,347.21 260.36,345.25" fill="#d6d6d6"/>
<rect x="245" y="257" width="11.5" height="182" fill="url(#gShaft)"/>
<polygon points="228.3,351 274.5,351 251,372.3" fill="#a8a8a8"/>
<polygon points="238.8,436 261.5,436 250.2,475" fill="#a6a6a6"/>
<text transform="translate(155.3,345.5) scale(0.58,1)" x="0" y="0" font-family="Liberation Sans" font-size="25" font-weight="normal" fill="#262626" stroke="#262626" stroke-width="1.2" textLength="101.72" lengthAdjust="spacing">Artemis</text>
<text transform="translate(143.6,373) scale(0.58,1)" x="0" y="0" font-family="Liberation Sans" font-size="25" font-weight="normal" fill="#262626" stroke="#262626" stroke-width="1.2" textLength="139.66" lengthAdjust="spacing">processing</text>
<text transform="translate(275.7,344.8) scale(0.58,1)" x="0" y="0" font-family="Liberation Sans" font-size="25" font-weight="normal" fill="#262626" stroke="#262626" stroke-width="1.2" textLength="143.62" lengthAdjust="spacing">checkpoint</text>
<text transform="translate(294,373) scale(0.58,1)" x="0" y="0" font-family="Liberation Sans" font-size="25" font-weight="normal" fill="#262626" stroke="#262626" stroke-width="1.2" textLength="78.97" lengthAdjust="spacing">arrest</text>
<text transform="translate(506.5,326) scale(0.58,1)" x="0" y="0" font-family="Liberation Sans" font-size="25" font-weight="normal" fill="#262626" stroke="#262626" stroke-width="1.2" textLength="286.21" lengthAdjust="spacing">checkpoint activation</text>
<text transform="translate(506.5,352.5) scale(0.58,1)" x="0" y="0" font-family="Liberation Sans" font-size="25" font-weight="normal" fill="#262626" stroke="#262626" stroke-width="1.2" textLength="234.48" lengthAdjust="spacing">provides time for</text>
<text transform="translate(506.5,379.7) scale(0.58,1)" x="0" y="0" font-family="Liberation Sans" font-size="25" font-weight="normal" fill="#262626" stroke="#262626" stroke-width="1.2" textLength="254.31" lengthAdjust="spacing">Artemis-dependent</text>
<text transform="translate(506.5,407) scale(0.58,1)" x="0" y="0" font-family="Liberation Sans" font-size="25" font-weight="normal" fill="#262626" stroke="#262626" stroke-width="1.2" textLength="200.86" lengthAdjust="spacing">end-processing</text>
<line x1="40" y1="556" x2="465" y2="556" stroke="#bc8a82" stroke-width="4"/>
<line x1="40" y1="579.8" x2="465" y2="579.8" stroke="#bc8a82" stroke-width="4"/>
<rect x="214" y="552" width="50" height="8" fill="#fff"/>
<rect x="238" y="575.5" width="52" height="8" fill="#fff"/>
<line x1="219" y1="556" x2="264" y2="556" stroke="#a08880" stroke-width="3.6" stroke-dasharray="3.6,3.8" stroke-linecap="butt"/>
<line x1="242" y1="579.8" x2="290" y2="579.8" stroke="#a08880" stroke-width="3.6" stroke-dasharray="3.6,3.8" stroke-linecap="butt"/>
<ellipse cx="201.5" cy="579" rx="16.5" ry="24" fill="#f8ebdf"/>
<rect x="112.5" y="521.8" width="106" height="33.5" rx="9" fill="#f7e3a2" stroke="#fbefc8" stroke-width="1.5"/>
<text x="120" y="547" font-family="Liberation Sans" font-size="20.5" font-weight="normal" fill="#36302a" stroke="#36302a" stroke-width="0.3" textLength="92.5" lengthAdjust="spacingAndGlyphs">DNA-PKcs</text>
<text x="190" y="581.4" font-family="Liberation Sans" font-size="21.5" font-weight="normal" fill="#36302a" stroke="#36302a" stroke-width="0.3" textLength="22.4" lengthAdjust="spacingAndGlyphs">Ku</text>
<polygon points="229.2,555 250.3,601 228.5,644 207.8,600" fill="#5a78c0"/>
<rect x="183.8" y="614.7" width="56.2" height="22.9" rx="3" fill="#cfe5f5" stroke="#b2d2ea" stroke-width="1"/>
<text x="187.4" y="631.8" font-family="Liberation Sans" font-size="15.5" font-weight="normal" fill="#45525f" stroke="#45525f" stroke-width="0.1" textLength="52" lengthAdjust="spacingAndGlyphs">XRCC4</text>
<text x="213.6" y="608" font-family="Liberation Sans" font-size="14.5" font-weight="bold" fill="#eef2fa" textLength="30.5" lengthAdjust="spacingAndGlyphs">LIG4</text>
<polygon points="224.5,638 234,638 229,649" fill="#5a78c0"/>
<polygon points="278.7,487.5 300,533 279.6,577 257.4,532.7" fill="#5a78c0"/>
<rect x="265.3" y="498.5" width="59.7" height="22.1" rx="3" fill="#cfe5f5" stroke="#b2d2ea" stroke-width="1"/>
<text x="269.4" y="516" font-family="Liberation Sans" font-size="15.5" font-weight="normal" fill="#45525f" stroke="#45525f" stroke-width="0.1" textLength="50.8" lengthAdjust="spacingAndGlyphs">XRCC4</text>
<text x="263" y="539.2" font-family="Liberation Sans" font-size="15.5" font-weight="bold" fill="#f0f4ff" textLength="32" lengthAdjust="spacingAndGlyphs">LIG4</text>
<ellipse cx="306.5" cy="556" rx="18.5" ry="22.5" fill="#f8ebdf"/>
<text x="295.6" y="568.8" font-family="Liberation Sans" font-size="21" font-weight="normal" fill="#36302a" stroke="#36302a" stroke-width="0.3" textLength="24" lengthAdjust="spacingAndGlyphs">Ku</text>
<rect x="288" y="581.5" width="107" height="33.3" rx="9" fill="#f7e3a2" stroke="#fbefc8" stroke-width="1.5"/>
<text x="295.6" y="605.8" font-family="Liberation Sans" font-size="20.5" font-weight="normal" fill="#36302a" stroke="#36302a" stroke-width="0.3" textLength="94" lengthAdjust="spacingAndGlyphs">DNA-PKcs</text>
<text transform="translate(507,572) scale(0.58,1)" x="0" y="0" font-family="Liberation Sans" font-size="25" font-weight="normal" fill="#262626" stroke="#262626" stroke-width="1.2" textLength="242.24" lengthAdjust="spacing">rejoining by NHEJ</text>
</svg>
</body></html>
